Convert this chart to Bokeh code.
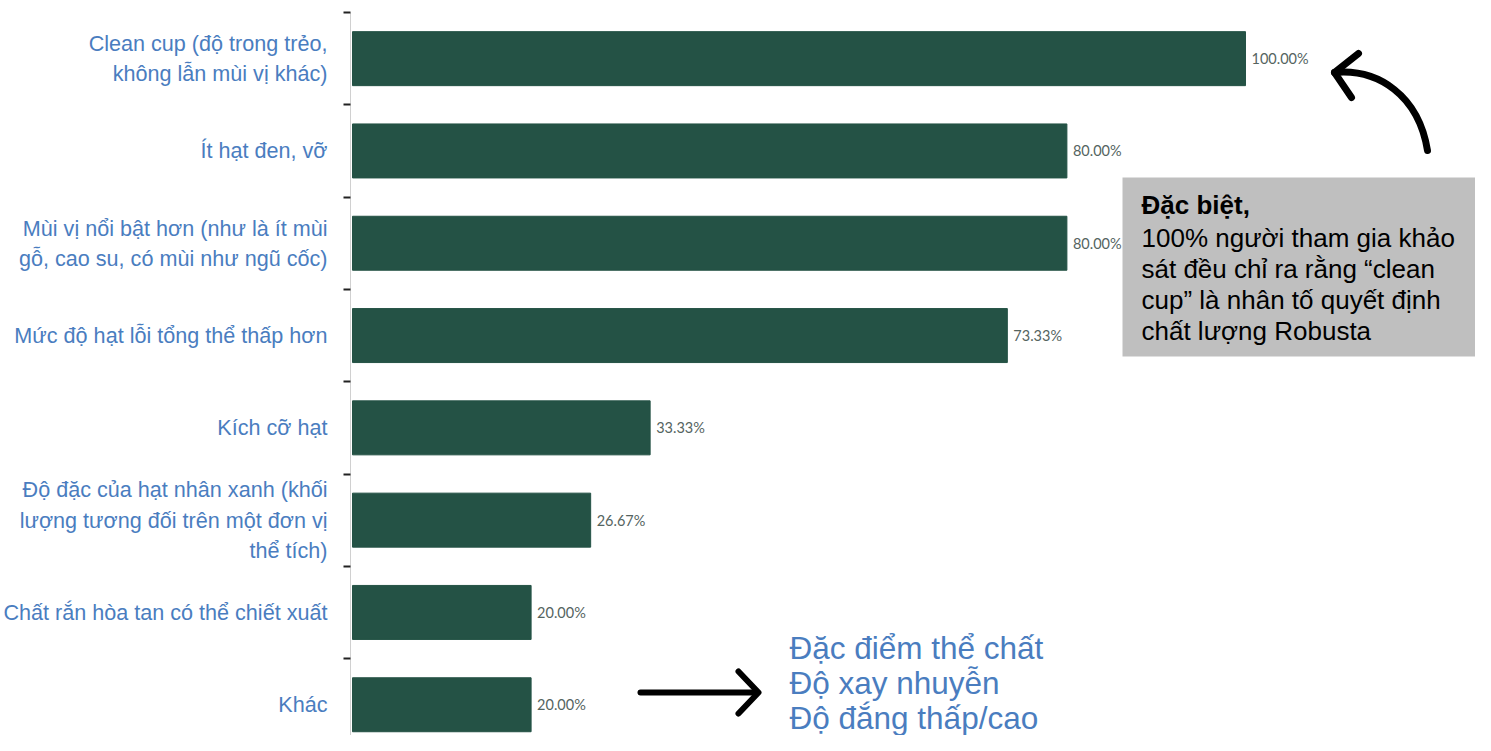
from bokeh.plotting import figure
from bokeh.models import Range1d, FixedTicker, ColumnDataSource
from bokeh.core.properties import value
from bokeh.embed import file_html
from bokeh.resources import INLINE

# ---- data ----
categories = [
    "Clean cup (độ trong trẻo,\nkhông lẫn mùi vị khác)",
    "Ít hạt đen, vỡ",
    "Mùi vị nổi bật hơn (như là ít mùi\ngỗ, cao su, có mùi như ngũ cốc)",
    "Mức độ hạt lỗi tổng thể thấp hơn",
    "Kích cỡ hạt",
    "Độ đặc của hạt nhân xanh (khối\nlượng tương đối trên một đơn vị\nthể tích)",
    "Chất rắn hòa tan có thể chiết xuất",
    "Khác",
]
values = [100.00, 80.00, 80.00, 73.33, 33.33, 26.67, 20.00, 20.00]
value_labels = [f"{v:.2f}%" for v in values]

note_title = "Đặc biệt,"
note_lines = [
    "100% người tham gia khảo",
    "sát đều chỉ ra rằng “clean",
    "cup” là nhân tố quyết định",
    "chất lượng Robusta",
]
other_lines = ["Đặc điểm thể chất", "Độ xay nhuyễn", "Độ đắng thấp/cao"]

# ---- styles ----
BAR = "#245245"
BLUE = "#4a7dbf"
VALC = "#55645f"

W, H = 1475, 735
LEFT, TOP = 350, 12
PX_PER_PCT = 8.93
BAND = 92.3

x0 = -2 / PX_PER_PCT
x1 = x0 + (W - LEFT) / PX_PER_PCT
y_top = -0.5
y_bot = y_top + (H - TOP) / BAND

p = figure(width=W, height=H, output_backend="svg", toolbar_location=None,
           x_range=Range1d(x0, x1), y_range=Range1d(y_bot, y_top),
           x_axis_location=None, min_border_left=LEFT, min_border_right=0,
           min_border_top=TOP, min_border_bottom=0)
p.outline_line_color = None
p.grid.visible = False
p.background_fill_color = "white"
p.border_fill_color = "white"

idx = list(range(len(categories)))
src = ColumnDataSource(dict(y=idx, v=values, lab=value_labels))
p.hbar(y="y", right="v", left=0, height=0.585, source=src,
       fill_color=BAR, line_color=BAR)
p.text(x="v", y="y", text="lab", source=src, x_offset=6,
       text_baseline="middle", text_font=value("Lato"),
       text_font_size="14.5px", text_color=VALC)

ax = p.yaxis[0]
ax.ticker = FixedTicker(ticks=idx, minor_ticks=[i - 0.5 for i in idx])
ax.major_label_overrides = {i: c for i, c in zip(idx, categories)}
ax.major_tick_out = 0
ax.major_tick_in = 0
ax.minor_tick_out = 7
ax.minor_tick_in = 0
ax.minor_tick_line_color = "#222222"
ax.minor_tick_line_width = 2
ax.axis_line_color = "#d0d0d0"
ax.major_label_standoff = 16
ax.major_label_text_font = "Liberation Sans"
ax.major_label_text_font_size = "21.6px"
ax.major_label_text_color = BLUE
ax.major_label_text_line_height = 1.22

# ---- annotations (positions in picture pixels converted to data) ----
def X(px):
    return (px - 352) / PX_PER_PCT

def Y(py):
    return (py - 12) / BAND - 0.5

# grey note box
p.quad(left=X(1122), right=X(1500), top=Y(177), bottom=Y(356),
       fill_color="#bfbfbf", line_color=None)
p.text(x=[X(1141)], y=[Y(204)], text=[note_title], text_baseline="middle",
       text_font=value("Liberation Sans"), text_font_size="26px",
       text_font_style="bold", text_color="black")
p.text(x=[X(1141)] * len(note_lines),
       y=[Y(237 + 31.3 * i) for i in range(len(note_lines))],
       text=note_lines, text_baseline="middle",
       text_font=value("Liberation Sans"), text_font_size="26px",
       text_color="black")

# curved arrow
p.bezier(x0=[X(1427)], y0=[Y(150)], x1=[X(1334)], y1=[Y(72)],
         cx0=[X(1418)], cy0=[Y(95)], cx1=[X(1378)], cy1=[Y(68)],
         line_color="black", line_width=7, line_cap="round")
p.multi_line(xs=[[X(1358), X(1334), X(1351)]], ys=[[Y(53), Y(72), Y(97)]],
             line_color="black", line_width=7, line_cap="round",
             line_join="round")

# bottom straight arrow
p.line(x=[X(640), X(757)], y=[Y(692), Y(692)], line_color="black",
       line_width=6, line_cap="round")
p.multi_line(xs=[[X(738), X(758), X(738)]], ys=[[Y(671), Y(692), Y(713)]],
             line_color="black", line_width=6, line_cap="round",
             line_join="round")

p.text(x=[X(789)] * 3, y=[Y(647 + 35 * i) for i in range(3)],
       text=other_lines, text_baseline="middle",
       text_font=value("Liberation Sans"), text_font_size="31.5px",
       text_color=BLUE)

open("out.html", "w").write(file_html(p, INLINE))
